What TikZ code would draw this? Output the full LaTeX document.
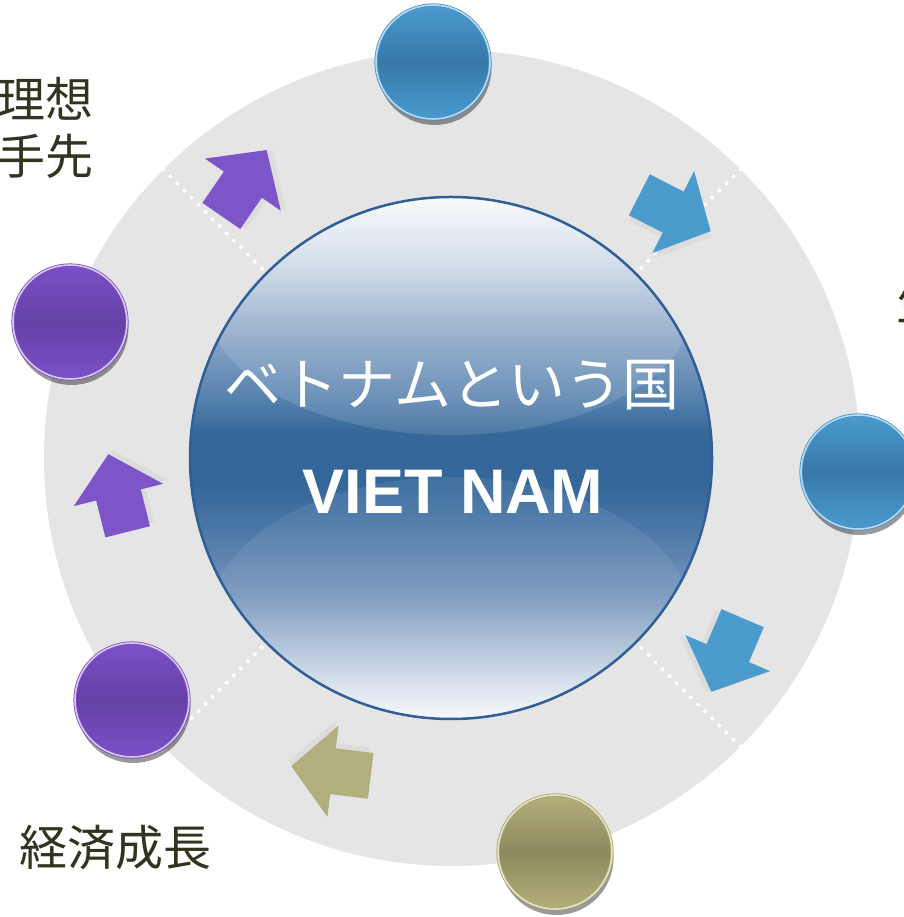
\documentclass[tikz,border=0pt]{standalone}
\usepackage{fontspec}
\newfontfamily\jpfont{Noto Sans CJK JP}
\newfontfamily\latfont{Liberation Sans}
\usetikzlibrary{shadows}

\definecolor{ringgray}{HTML}{E5E5E5}
\definecolor{coreedge}{HTML}{2F5F95}
\definecolor{tagcol}{HTML}{33331F}
\definecolor{blueA}{HTML}{4A9BD0}
\definecolor{blueB}{HTML}{3878A8}
\definecolor{blueedge}{HTML}{4A8FC6}
\definecolor{bluerim}{HTML}{B8DCF2}
\definecolor{purpA}{HTML}{7C50C8}
\definecolor{purpB}{HTML}{6440A6}
\definecolor{purpedge}{HTML}{7A4EC2}
\definecolor{purprim}{HTML}{D8C8F2}
\definecolor{oliveA}{HTML}{B4B07C}
\definecolor{oliveB}{HTML}{8C895D}
\definecolor{oliveedge}{HTML}{A9A572}
\definecolor{oliverim}{HTML}{E6E4C8}
\definecolor{arrowpurple}{HTML}{7E55C9}
\definecolor{arrowblue}{HTML}{4B9BCD}
\definecolor{arrowolive}{HTML}{B1AF7D}
% colours of the big disc, bottom to top
\definecolor{cs0}{HTML}{F7F9FC}
\definecolor{cs1}{HTML}{D5DFEB}
\definecolor{cs2}{HTML}{7A98BE}
\definecolor{cs3}{HTML}{4C78A7}
\definecolor{cs4}{HTML}{336699}
\definecolor{cs5}{HTML}{356799}
\definecolor{cs6}{HTML}{5480AD}
\definecolor{cs7}{HTML}{90AAC9}
\definecolor{cs8}{HTML}{D0DCEA}
\definecolor{cs9}{HTML}{F8FAFC}

\pgfdeclareverticalshading{coreshade}{100bp}{color(0bp)=(cs0); color(25bp)=(cs0);
  color(28.5bp)=(cs1); color(36.5bp)=(cs2); color(43bp)=(cs3); color(47.5bp)=(cs4);
  color(52.5bp)=(cs5); color(55.5bp)=(cs6); color(62.25bp)=(cs7); color(69bp)=(cs8);
  color(75bp)=(cs9); color(100bp)=(cs9)}

\tikzset{
	ball/.style={circle, minimum size=114pt, inner sep=0pt, line width=0.8pt,
		double distance=1.6pt,
		drop shadow={shadow xshift=1.5pt, shadow yshift=-6pt, opacity=.4, fill=black}},
	ballblue/.style={ball, draw=blueedge, double=bluerim,
		top color=blueA, bottom color=blueA, middle color=blueB},
	ballpurple/.style={ball, draw=purpedge, double=purprim,
		top color=purpA, bottom color=purpA, middle color=purpB},
	ballolive/.style={ball, draw=oliveedge, double=oliverim,
		top color=oliveA, bottom color=oliveA, middle color=oliveB},
	dotline/.style={white, line width=4pt, line cap=round, dash pattern=on 0pt off 10pt},
	tagtext/.style={text=tagcol, inner sep=0pt, font=\jpfont\fontsize{48}{57}\selectfont},
	bigarrow/.pic={
		\fill[black, opacity=.04, shift={(3,-5)}] (-40,-23) -- (-2,-23) -- (-2,-46) -- (40,0)
			-- (-2,46) -- (-2,23) -- (-40,23) -- cycle;
		\fill (-40,-23) -- (-2,-23) -- (-2,-46) -- (40,0) -- (-2,46) -- (-2,23) -- (-40,23) -- cycle;
	}
}

\begin{document}
\begin{tikzpicture}[x=1pt, y=1pt]
	\useasboundingbox[fill=white] (0,0) rectangle (903,917);

	% ring and centre disc
	\node[circle, fill=ringgray, minimum size=816pt, inner sep=0pt] (ring) at (452,459) {};
	\node[circle, minimum size=522pt, inner sep=0pt] (core) at (451,459) {};

	\draw[dotline] (ring.45) -- (core.45);
	\draw[dotline] (ring.135) -- (core.135);
	\draw[dotline] (ring.225) -- (core.225);
	\draw[dotline] (ring.315) -- (core.315);

	\shade[shading=coreshade] (core.center) circle (261);
	\begin{scope}
		\clip (core.center) circle (260);
		\fill[white, opacity=.13] (451,612) ellipse (242 and 130);
		\fill[white, opacity=.08] (451,300) ellipse (240 and 140);
	\end{scope}
	\draw[coreedge, line width=2.5pt] (core.center) circle (261);

	\node[text=white, inner sep=0pt, font=\jpfont\fontsize{57}{60}\selectfont] (title) at (452,532) {ベトナムという国};
	\node[text=white, inner sep=0pt, font=\latfont\bfseries\fontsize{63}{66}\selectfont] (sub) at (453,425) {VIET NAM};

	% arrows round the ring
	\pic[fill=arrowpurple, rotate=55.5] at (244,734) {bigarrow};
	\pic[fill=arrowblue, rotate=-27] at (675,704) {bigarrow};
	\pic[fill=arrowblue, rotate=-113] at (727,262) {bigarrow};
	\pic[fill=arrowolive, rotate=173] at (331,146) {bigarrow};
	\pic[fill=arrowpurple, rotate=104] at (118,424) {bigarrow};

	% balls on the ring
	\node[ballblue] (ballN) at (433,855) {};
	\node[ballblue] (ballE) at (858,445) {};
	\node[ballolive] (ballS) at (555,65) {};
	\node[ballpurple] (ballSW) at (132,217) {};
	\node[ballpurple] (ballW) at (70,595) {};

	% labels
	\node[tagtext, align=right, anchor=east] (ideal) at (94,789) {理想\\手先};
	\node[tagtext, anchor=west] (life) at (896,615) {生};
	\node[tagtext] (growth) at (115,69) {経済成長};
\end{tikzpicture}
\end{document}
